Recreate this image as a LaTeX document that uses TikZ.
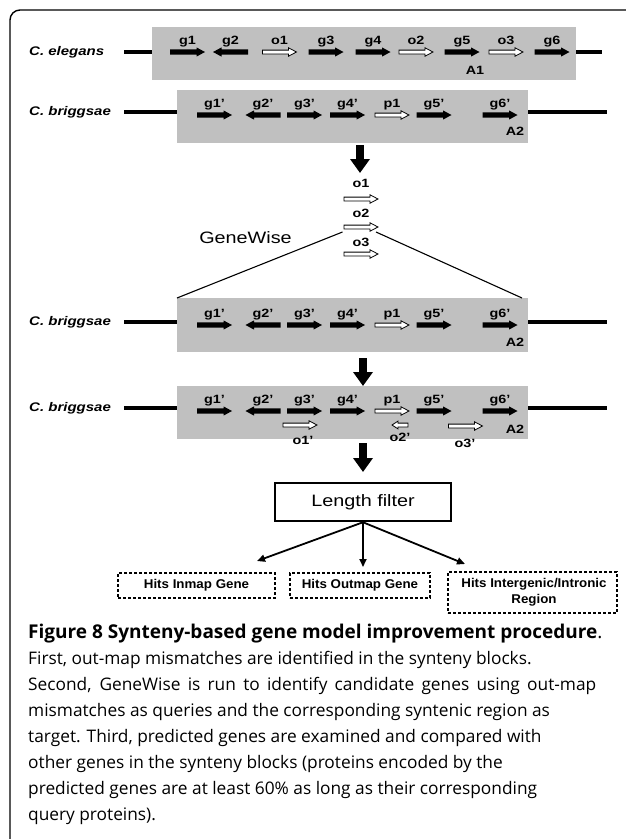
\documentclass[tikz,border=0pt]{standalone}
\usepackage{fontspec}
\setmainfont{Liberation Sans}
\newfontfamily\dia[FakeStretch=1.2]{Liberation Sans}
\newfontfamily\hitf[FakeStretch=1.05]{Liberation Sans}
\newfontfamily\capf{Open Sans}
\usetikzlibrary{arrows.meta}
\definecolor{boxgray}{RGB}{192,192,192}
\tikzset{
  frame/.style={line width=1.4pt, rounded corners=10pt},
  gbox/.style={fill=boxgray, draw=none, inner sep=0pt, anchor=north west},
  chrom/.style={line width=3.5pt},
  lab/.style={font=\dia\bfseries\fontsize{12}{14}\selectfont, inner sep=0pt, anchor=base},
  spec/.style={font=\dia\bfseries\itshape\fontsize{12.5}{15}\selectfont, inner sep=0pt, anchor=west},
  big/.style={font=\dia\fontsize{16.5}{19}\selectfont, inner sep=0pt},
  hits/.style={draw, line width=1.3pt, dash pattern=on 3pt off 2pt, inner sep=0pt},
  hitstext/.style={font=\hitf\bfseries\fontsize{12.7}{16}\selectfont, inner sep=0pt, align=center},
  bigarrow/.style={line width=8pt, -{Triangle[length=14pt,width=19pt]}},
  conn/.style={line width=1.8pt, -{Triangle[length=8pt,width=7pt]}},
  thinline/.style={line width=1.1pt},
  captext/.style={font=\capf\fontsize{17.3}{21}\selectfont, anchor=base west, inner sep=0pt},
  captitle/.style={font=\capf\fontsize{19}{22}\selectfont, anchor=base west, inner sep=0pt},
  gR/.pic={\fill (-17.5,-2.6) -- (9,-2.6) -- (9,-4.6) -- (17.5,0) -- (9,4.6) -- (9,2.6) -- (-17.5,2.6) -- cycle;},
  gL/.pic={\fill (17.5,-2.6) -- (-9,-2.6) -- (-9,-4.6) -- (-17.5,0) -- (-9,4.6) -- (-9,2.6) -- (17.5,2.6) -- cycle;},
  oR/.pic={\filldraw[fill=white,line width=0.8pt] (-17,-1.9) -- (9,-1.9) -- (9,-4.2) -- (17,0) -- (9,4.2) -- (9,1.9) -- (-17,1.9) -- cycle;},
  oLs/.pic={\filldraw[fill=white,line width=0.8pt] (8,-1.9) -- (-2,-1.9) -- (-2,-3.9) -- (-8,0) -- (-2,3.9) -- (-2,1.9) -- (8,1.9) -- cycle;},
}
\newcommand\gen[5]{\pic at (#1,#2) {#3};\node[lab] (#5) at (#1,#2-8) {#4};}
\begin{document}
\begin{tikzpicture}[x=1pt,y=-1pt]
\useasboundingbox (0,0) rectangle (625,839);
\draw[frame] (10,842) -- (10,10) -- (628,10);

% ---------- row 1: C. elegans
\node[gbox, minimum width=424, minimum height=53] (box1) at (152,27) {};
\node[spec] (ce) at (29,52) {C. elegans};
\coordinate (l1a) at (124,52); \coordinate (l1b) at (602,52);
\draw[chrom] (l1a) -- (box1.west |- l1a);
\draw[chrom] (box1.east |- l1b) -- (l1b);
\gen{187.5}{52}{gR}{g1}{ag1}
\gen{230.5}{52}{gL}{g2}{ag2}
\gen{279.5}{52}{oR}{o1}{ao1}
\gen{326}{52}{gR}{g3}{ag3}
\gen{373}{52}{gR}{g4}{ag4}
\gen{416}{52}{oR}{o2}{ao2}
\gen{462}{52}{gR}{g5}{ag5}
\gen{506}{52}{oR}{o3}{ao3}
\gen{552}{52}{gR}{g6}{ag6}
\node[lab] (A1) at (475,74) {A1};

% ---------- row 2: C. briggsae
\node[gbox, minimum width=351, minimum height=53] (box2) at (177,90) {};
\node[spec] (cb2) at (29,112) {C. briggsae};
\coordinate (l2a) at (124,112); \coordinate (l2b) at (607,112);
\draw[chrom] (l2a) -- (box2.west |- l2a);
\draw[chrom] (box2.east |- l2b) -- (l2b);
\gen{214.5}{115}{gR}{g1’}{bg1}
\gen{263}{115}{gL}{g2’}{bg2}
\gen{304.5}{115}{gR}{g3’}{bg3}
\gen{347.5}{115}{gR}{g4’}{bg4}
\gen{392}{115}{oR}{p1}{bp1}
\gen{434}{115}{gR}{g5’}{bg5}
\gen{500}{115}{gR}{g6’}{bg6}
\node[lab] (A2a) at (515,135) {A2};

% ---------- arrow 1 and queries
\coordinate (a1s) at (360,145); \coordinate (a1e) at (360,173);
\draw[bigarrow] (a1s) -- (a1e);
\pic at (361,199) {oR}; \node[lab] (q1) at (361,187) {o1};
\pic at (361,227) {oR}; \node[lab] (q2) at (361,217) {o2};
\pic at (361,254) {oR}; \node[lab] (q3) at (361,246) {o3};
\node[big] (gw) at (245.5,238) {GeneWise};

% ---------- row 3
\node[gbox, minimum width=351, minimum height=54] (box3) at (177,298) {};
\node[spec] (cb3) at (29,322) {C. briggsae};
\coordinate (l3a) at (124,322); \coordinate (l3b) at (607,322);
\draw[chrom] (l3a) -- (box3.west |- l3a);
\draw[chrom] (box3.east |- l3b) -- (l3b);
\gen{214.5}{325}{gR}{g1’}{cg1}
\gen{263}{325}{gL}{g2’}{cg2}
\gen{304.5}{325}{gR}{g3’}{cg3}
\gen{347.5}{325}{gR}{g4’}{cg4}
\gen{392}{325}{oR}{p1}{cp1}
\gen{434}{325}{gR}{g5’}{cg5}
\gen{500}{325}{gR}{g6’}{cg6}
\node[lab] (A2b) at (515,346) {A2};

\coordinate (gwl) at (342.5,232); \coordinate (gwr) at (376,232);
\coordinate (b3r) at (522,298);
\draw[thinline] (gwl) -- (box3.north west);
\draw[thinline] (gwr) -- (b3r);

% ---------- arrow 2
\coordinate (a2s) at (363,358); \coordinate (a2e) at (363,386);
\draw[bigarrow] (a2s) -- (a2e);

% ---------- row 4
\node[gbox, minimum width=351, minimum height=53] (box4) at (177,386) {};
\node[spec] (cb4) at (29,408) {C. briggsae};
\coordinate (l4a) at (124,408); \coordinate (l4b) at (607,408);
\draw[chrom] (l4a) -- (box4.west |- l4a);
\draw[chrom] (box4.east |- l4b) -- (l4b);
\gen{214.5}{411}{gR}{g1’}{dg1}
\gen{263}{411}{gL}{g2’}{dg2}
\gen{304.5}{411}{gR}{g3’}{dg3}
\gen{347.5}{411}{gR}{g4’}{dg4}
\gen{392}{411}{oR}{p1}{dp1}
\gen{434}{411}{gR}{g5’}{dg5}
\gen{500}{411}{gR}{g6’}{dg6}
\node[lab] (A2c) at (515,433) {A2};
\pic at (300,425) {oR}; \node[lab] (r1) at (303,444) {o1’};
\pic at (400,425) {oLs}; \node[lab] (r2) at (400,441) {o2’};
\pic at (465.5,426) {oR}; \node[lab] (r3) at (465,447) {o3’};

% ---------- arrow 3 and length filter
\coordinate (a3s) at (363,443); \coordinate (a3e) at (363,472);
\draw[bigarrow] (a3s) -- (a3e);
\node[big, draw, line width=2.5pt, minimum width=176, minimum height=38] (lf) at (363,502) {Length filter};

\node[hits, minimum width=157, minimum height=25] (hA) at (196.5,585.5) {};
\node[hitstext] (hAt) at (hA) {Hits Inmap Gene};
\node[hits, minimum width=140, minimum height=25] (hB) at (360,585.5) {};
\node[hitstext] (hBt) at (hB) {Hits Outmap Gene};
\node[hits, minimum width=169, minimum height=41] (hC) at (532.5,592.5) {};
\node[hitstext] (hCt) at (534,592.5) {Hits Intergenic/Intronic\\Region};
\coordinate (tA) at (257,561); \coordinate (tB) at (363,567); \coordinate (tC) at (465,564);
\draw[conn] (lf.south) -- (tA);
\draw[conn] (lf.south) -- (tB);
\draw[conn] (lf.south) -- (tC);

% ---------- caption
\node[captitle] (c0) at (28,638) {\textbf{Figure 8 Synteny-based gene model improvement procedure}.};
\node[captext] (c1) at (28,664) {First, out-map mismatches are identified in the synteny blocks.};
\node[captext] (c2) at (28,690) {\makebox[568pt][s]{Second, GeneWise is run to identify candidate genes using out-map}};
\node[captext] (c3) at (28,716) {mismatches as queries and the corresponding syntenic region as};
\node[captext] (c4) at (28,742) {target. Third, predicted genes are examined and compared with};
\node[captext] (c5) at (28,768) {other genes in the synteny blocks (proteins encoded by the};
\node[captext] (c6) at (28,794) {predicted genes are at least 60\% as long as their corresponding};
\node[captext] (c7) at (28,820) {query proteins).};
\end{tikzpicture}
\end{document}
